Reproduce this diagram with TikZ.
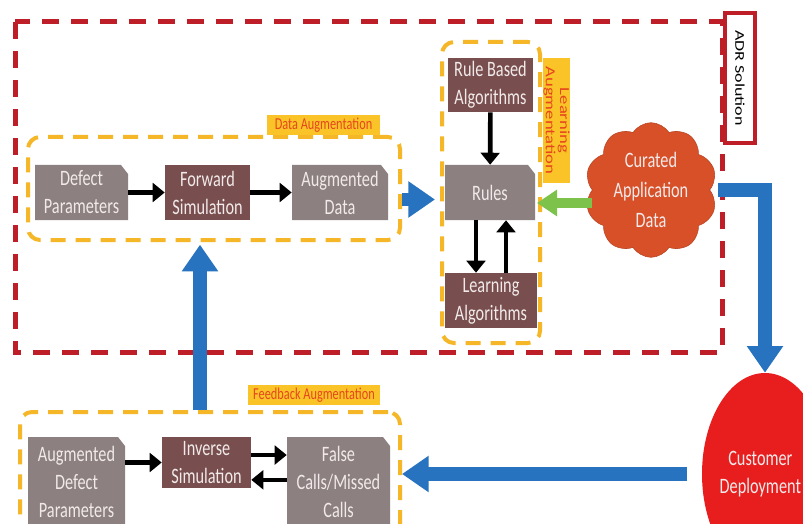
\documentclass[tikz,border=0pt]{standalone}
\usepackage{fontspec}
\setmainfont{Carlito}
\newfontfamily\narrow[FakeStretch=0.74]{Carlito}
\usetikzlibrary{arrows.meta,shapes.geometric,shapes.symbols,calc}
\definecolor{adrred}{RGB}{190,30,40}
\definecolor{augyel}{RGB}{245,182,40}
\definecolor{lblyel}{RGB}{250,196,40}
\definecolor{lbltext}{RGB}{230,70,30}
\definecolor{grayc}{RGB}{140,128,128}
\definecolor{brownc}{RGB}{120,78,78}
\definecolor{nodetxt}{RGB}{242,234,234}
\definecolor{bluec}{RGB}{40,115,192}
\definecolor{greenc}{RGB}{125,195,75}
\definecolor{cloudc}{RGB}{215,80,40}
\definecolor{custc}{RGB}{232,30,30}
\tikzset{
  redbox/.style={draw=adrred, line width=3.75pt, dash pattern=on 12.75pt off 9pt},
  yelbox/.style={draw=augyel, line width=3pt, dash pattern=on 11.25pt off 7.5pt, rounded corners=9pt, inner sep=0pt},
  lbl/.style={fill=lblyel, text=lbltext, font=\narrow\fontsize{12.5}{14}\selectfont, inner sep=0pt},
  nodetext/.style={text=nodetxt, align=center, inner sep=0pt, font=\narrow\fontsize{16.5}{21}\selectfont},
  brownnode/.style={nodetext, fill=brownc},
  blk/.style={draw=black, line width=3.5pt, -{Triangle[length=9pt,width=14pt]}},
  blu/.style={draw=bluec, line width=10pt, -{Triangle[length=20pt,width=26pt]}},
  grn/.style={draw=greenc, line width=8pt, -{Triangle[length=15pt,width=19pt]}}
}
\newcommand{\graynode}[6]{%
  \fill[grayc] (#2,#3) -- ({#4-7},#3) -- (#4,{#3+9}) -- (#4,#5) -- (#2,#5) -- cycle;
  \node[nodetext, minimum width={(#4-#2)*0.75pt}, minimum height={(#5-#3)*0.75pt}] (#1) at ({(#2+#4)/2},{(#3+#5)/2}) {#6};}
\newcommand{\brownbox}[6]{%
  \node[brownnode, minimum width={(#4-#2)*0.75pt}, minimum height={(#5-#3)*0.75pt}] (#1) at ({(#2+#4)/2},{(#3+#5)/2}) {#6};}
\begin{document}
\begin{tikzpicture}[x=0.75pt,y=-0.75pt]
\useasboundingbox[fill=white] (0,0) rectangle (803,524);

% ADR solution frame
\draw[redbox] (15,22) rectangle (722,352);
\node[draw=adrred, line width=2.5pt, fill=white, rotate=-90, yscale=0.74,
      minimum width=97.5pt, minimum height=30.4pt, inner sep=0pt,
      font=\fontsize{13.5}{14}\selectfont] (adr) at (740,78) {ADR Solution};

% augmentation boxes
\node[yelbox, minimum width={372*0.75pt}, minimum height={103*0.75pt}] (dabox) at (214,188.5) {};
\node[yelbox, minimum width={98*0.75pt}, minimum height={301*0.75pt}] (lbbox) at (491,192.5) {};
\node[yelbox, minimum width={380*0.75pt}, minimum height={153*0.75pt}] (fbbox) at (210,488.5) {};

\node[lbl, minimum width=85pt, minimum height=15pt] (dalbl) at (323.5,125) {Data Augmentation};
\node[lbl, minimum width=99pt, minimum height=15pt] (fblbl) at (314,395) {Feedback Augmentation};
\node[lbl, rotate=-90, yscale=0.74, minimum width=94pt, minimum height=23.3pt, align=center,
      font=\fontsize{14}{14.5}\selectfont] (lblbl) at (556.5,120.5) {Learning\\Augmentation};

% data augmentation chain
\graynode{DP}{35}{165}{128}{220}{Defect\\Parameters}
\brownbox{FS}{165}{165}{250}{220}{Forward\\Simulation}
\graynode{AD}{292}{165}{388}{220}{Augmented\\Data}

% learning augmentation
\brownbox{RBA}{448}{58}{533}{112}{Rule Based\\Algorithms}
\graynode{Rules}{445}{165}{535}{220}{Rules}
\brownbox{LA}{445}{273}{537}{328}{Learning\\Algorithms}

% feedback augmentation
\graynode{ADP}{28}{437}{125}{527}{Augmented\\Defect\\Parameters}
\brownbox{IS}{162}{437}{251}{488}{Inverse\\Simulation}
\graynode{FC}{287}{437}{390}{527}{False\\Calls/Missed\\Calls}

% cloud and customer
\node[cloud, cloud puffs=10, cloud puff arc=115, aspect=1, fill=cloudc, draw=cloudc!85!black,
      minimum width=99pt, minimum height=101pt, inner sep=0pt, nodetext,
      font=\narrow\fontsize{16.5}{22.5}\selectfont] (cloud) at (651,190) {Curated\\Application\\Data};
\node[ellipse, fill=custc, minimum width=94.5pt, minimum height=151.5pt, inner sep=0pt,
      nodetext] (cust) at (765,474) {\hspace*{-7pt}Customer\\\hspace*{-7pt}Deployment};

% black arrows
\draw[blk] (DP) -- (FS);
\draw[blk] (FS) -- (AD);
\draw[blk] (RBA) -- (Rules);
\draw[blk] ([xshift=-10.5pt]Rules.south) -- ([xshift=-10.5pt]Rules.south |- LA.north);
\draw[blk] ([xshift=12pt]Rules.south |- LA.north) -- ([xshift=12pt]Rules.south);
\draw[blk] (ADP.east |- IS.west) -- (IS.west);
\draw[blk] ([yshift=5.6pt]IS.east) -- ([yshift=5.6pt]IS.east -| FC.west);
\draw[blk] ([yshift=-13pt]IS.east -| FC.west) -- ([yshift=-13pt]IS.east);

% coloured arrows
\draw[blu, shorten >=3.75pt] ([yshift=-8.25pt]dabox.east) -- ([yshift=-8.25pt]dabox.east -| lbbox.west);
\draw[grn, shorten >=-3.75pt] ([yshift=-9.75pt]cloud.west) -- ([yshift=-9.75pt]cloud.west -| lbbox.east);
\draw[blu, line join=miter, shorten <=6pt] (cloud.east) -- (cust.north |- cloud.east) -- (cust.north);
\draw[blu, shorten >=2pt] ([xshift=-7.5pt]fbbox.north) -- ([xshift=-10.5pt]dabox.south);
\draw[blu, shorten <=11pt] (cust.west) -- (cust.west -| fbbox.east);
\end{tikzpicture}
\end{document}
